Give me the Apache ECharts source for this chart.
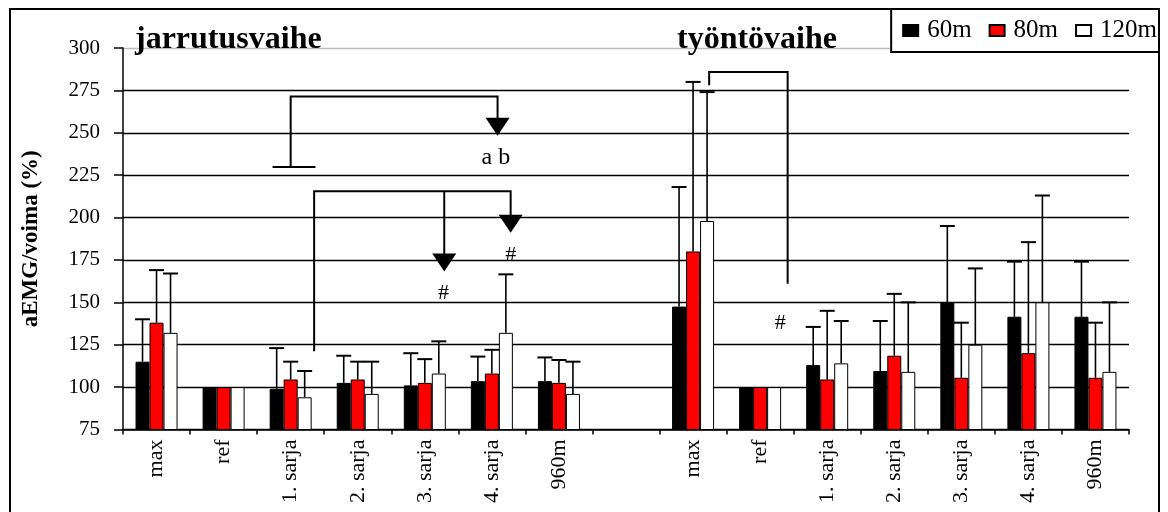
<!DOCTYPE html>
<html>
<head>
<meta charset="utf-8">
<script src="https://cdn.jsdelivr.net/npm/echarts@6/dist/echarts.min.js"></script>
<style>
html,body{margin:0;padding:0;background:#fff;}
#chart{width:1168px;height:512px;}
</style>
</head>
<body>
<div id="chart"></div>
<script>
// ---- data ----
const categories = ['max','ref','1. sarja','2. sarja','3. sarja','4. sarja','960m','','max','ref','1. sarja','2. sarja','3. sarja','4. sarja','960m'];
const seriesNames = ['60m','80m','120m'];
const mean60  = [115, 100, 99, 102.5, 101, 103.5, 103.5, null, 147.5, 100, 113, 109.5, 150, 141.5, 141.5];
const mean80  = [138, 100, 104.5, 104.5, 102.5, 108, 102.5, null, 180, 100, 104.5, 118.5, 105.5, 120, 105.5];
const mean120 = [132, 100, 94, 96, 108, 132, 96, null, 198, 100, 114, 109, 125, 150, 109];
const errTop60  = [140, null, 123, 118.5, 120, 118, 117.5, null, 218, null, 135.5, 139, 195, 174, 174];
const errTop80  = [169, null, 115, 115, 116.5, 122, 116, null, 280, null, 145, 155, 138, 185.5, 138];
const errTop120 = [167, null, 109.5, 115, 127, 166.5, 115, null, 274, null, 139, 150, 170, 213, 150];
const yTicks = [75, 100, 125, 150, 175, 200, 225, 250, 275, 300];
const panelTitles = ['jarrutusvaihe', 'työntövaihe'];
const yName = 'aEMG/voima (%)';

// annotations: [category position (fractional index), value]
const bracketCap = [[1.73, 229.8], [2.37, 229.8]];
const bracketA = [[2.0, 229.8], [2.0, 271.4], [5.085, 271.4], [5.085, 250]];
const bracketB = [[2.35, 121.2], [2.35, 215.5], [5.28, 215.5], [5.28, 193]];
const bracketB2 = [[4.29, 215.5], [4.29, 170]];
const bracketC = [[8.24, 278], [8.24, 285.9], [9.41, 285.9], [9.41, 161]];
const annotLines = [bracketCap, bracketA, bracketB, bracketB2, bracketC];
const arrowTips = [[5.085, 248.2], [5.28, 191], [4.29, 168.2]];
const noteTexts = ['a b', '#', '#', '#'];
const notePos = [[5.06, 235.3], [4.28, 155.5], [5.28, 178], [9.30, 137.9]];

// ---- styles ----
const FONT = "'Liberation Serif','DejaVu Serif',serif";
const BAR_W = 14;
const CAP_W = 15;
const colors = ['#000000', '#ff0000', '#ffffff'];

function errRender(offset) {
  return function (params, api) {
    const i = api.value(0), m = api.value(1), t = api.value(2);
    const p0 = api.coord([i, m]);
    const p1 = api.coord([i, t]);
    const x = p0[0] + offset;
    return {
      type: 'group',
      children: [
        {type: 'line', shape: {x1: x, y1: p0[1], x2: x, y2: p1[1]}, style: {stroke: '#000', lineWidth: 1.6}},
        {type: 'line', shape: {x1: x - CAP_W / 2, y1: p1[1], x2: x + CAP_W / 2, y2: p1[1]}, style: {stroke: '#000', lineWidth: 2}}
      ]
    };
  };
}
function errData(means, tops) {
  const out = [];
  means.forEach((m, i) => { if (m != null && tops[i] != null) out.push([i, m, tops[i]]); });
  return out;
}

const means = [mean60, mean80, mean120];
const tops = [errTop60, errTop80, errTop120];

const series = [];
seriesNames.forEach((n, k) => {
  series.push({
    name: n, type: 'bar', xAxisIndex: 0, yAxisIndex: 0,
    data: means[k], barWidth: BAR_W, barGap: '0%',
    itemStyle: {color: colors[k], borderColor: '#000', borderWidth: 1},
    z: 2
  });
});
seriesNames.forEach((n, k) => {
  series.push({
    type: 'custom', xAxisIndex: 0, yAxisIndex: 0, z: 3,
    renderItem: errRender((k - 1) * BAR_W),
    data: errData(means[k], tops[k]), silent: true
  });
});
series.push({
  type: 'custom', xAxisIndex: 1, yAxisIndex: 0, z: 4, silent: true,
  data: annotLines.map(l => l[0]),
  renderItem: function (params, api) {
    const pts = annotLines[params.dataIndex].map(p => api.coord(p));
    return {type: 'polyline', shape: {points: pts}, style: {stroke: '#000', lineWidth: 2, fill: null}};
  }
});
series.push({
  type: 'custom', xAxisIndex: 1, yAxisIndex: 0, z: 5, silent: true,
  data: arrowTips,
  renderItem: function (params, api) {
    const p = api.coord([api.value(0), api.value(1)]);
    return {type: 'polygon', shape: {points: [[p[0] - 12, p[1] - 18], [p[0] + 12, p[1] - 18], [p[0], p[1]]]}, style: {fill: '#000'}};
  }
});
series.push({
  type: 'custom', xAxisIndex: 1, yAxisIndex: 0, z: 5, silent: true,
  data: notePos,
  renderItem: function (params, api) {
    const p = api.coord([api.value(0), api.value(1)]);
    const t = noteTexts[params.dataIndex];
    return {type: 'text', style: {text: t, x: p[0], y: p[1], fill: '#000', font: (t === '#' ? '22px ' : '24px ') + FONT, textAlign: 'center', textVerticalAlign: 'middle'}};
  }
});

const splitColors = yTicks.map((v, i) => i === yTicks.length - 1 ? '#bdbdbd' : '#000');

const option = {
  animation: false,
  backgroundColor: '#fff',
  textStyle: {fontFamily: FONT},
  title: [
    {text: panelTitles[0], left: 135, top: 24, padding: 0, textStyle: {fontFamily: FONT, fontWeight: 'bold', fontSize: 32, color: '#000'}},
    {text: panelTitles[1], left: 677, top: 24, padding: 0, textStyle: {fontFamily: FONT, fontWeight: 'bold', fontSize: 32, color: '#000'}}
  ],
  legend: {
    data: seriesNames, right: 9, top: 9, orient: 'horizontal',
    padding: [9, 2, 9, 11], itemGap: 17, itemWidth: 15, itemHeight: 11,
    borderColor: '#000', borderWidth: 2, backgroundColor: '#fff',
    icon: 'rect',
    textStyle: {fontFamily: FONT, fontSize: 25, color: '#000', padding: [0, 0, 0, 4]}
  },
  grid: {left: 123, right: 39, top: 48, bottom: 82.5, containLabel: false},
  xAxis: [
    {
      type: 'category', data: categories, boundaryGap: true,
      axisLine: {onZero: false, lineStyle: {color: '#000', width: 1.5}},
      axisTick: {show: true, length: 5, lineStyle: {color: '#000', width: 1.5}},
      axisLabel: {rotate: 90, margin: 10, color: '#000', fontFamily: FONT, fontSize: 22, interval: 0},
      splitLine: {show: false}
    },
    {type: 'value', min: -0.5, max: 14.5, show: false, axisLine: {onZero: false}}
  ],
  yAxis: [{
    type: 'value', min: 75, max: 300, interval: 25,
    name: yName, nameLocation: 'middle', nameGap: 80, nameRotate: 90,
    nameTextStyle: {fontFamily: FONT, fontWeight: 'bold', fontSize: 23, color: '#000'},
    axisLine: {show: true, onZero: false, lineStyle: {color: '#000', width: 1.5}},
    axisTick: {show: true, length: 9, lineStyle: {color: '#000', width: 1.5}},
    axisLabel: {margin: 23, color: '#000', fontFamily: FONT, fontSize: 21},
    splitLine: {show: true, lineStyle: {color: splitColors, width: 1.3}}
  }],
  graphic: [{
    type: 'rect', shape: {x: 10, y: 9, width: 1149, height: 520},
    style: {fill: null, stroke: '#000', lineWidth: 2}, z: 100, silent: true
  }],
  series: series
};

const chart = echarts.init(document.getElementById('chart'), null, {renderer: 'canvas'});
chart.setOption(option);
</script>
</body>
</html>
